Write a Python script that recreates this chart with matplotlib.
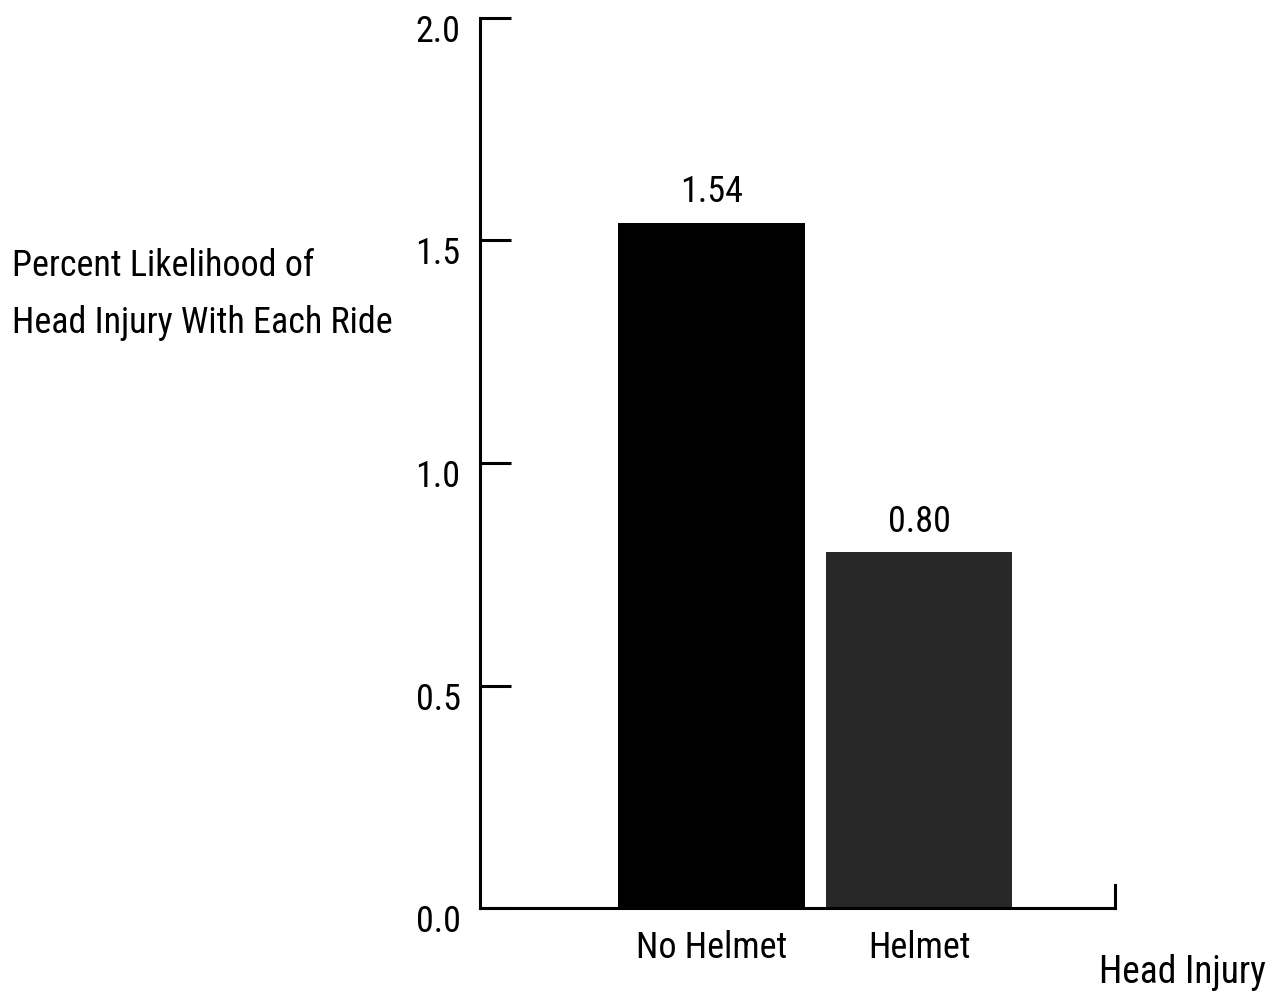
import numpy as np
import matplotlib.pyplot as plt
import matplotlib.transforms as mtransforms
from matplotlib import font_manager as fm

# pick a narrow sans face if one is installed
narrow = None
for name in ['Liberation Sans Narrow', 'Roboto Condensed', 'Open Sans Condensed',
             'DejaVu Sans Condensed', 'Noto Sans Condensed']:
    try:
        fm.findfont(name, fallback_to_default=False)
        narrow = name
        break
    except Exception:
        pass
if narrow is None:
    for f in fm.fontManager.ttflist:
        if 'Narrow' in f.name or 'Condensed' in f.name:
            narrow = f.name
            break
if narrow is None:
    plt.rcParams['font.stretch'] = 'condensed'
    plt.rcParams['font.family'] = ['DejaVu Sans']
else:
    plt.rcParams['font.family'] = [narrow, 'DejaVu Sans']

categories = ['No Helmet', 'Helmet']
values = [1.54, 0.80]
value_labels = ['1.54', '0.80']
bar_colors = ['#000000', '#282828']
yticks = [0.0, 0.5, 1.0, 1.5, 2.0]

fig = plt.figure(figsize=(12.84, 9.94), dpi=100)
ax = fig.add_axes([0.3738, 0.0865, 0.4946, 0.8954])

x = np.arange(len(categories))
ax.bar(x, values, width=0.9, color=bar_colors, zorder=2)

for xi, v, lab in zip(x, values, value_labels):
    ax.annotate(lab, (xi, v), xytext=(0, 9), textcoords='offset points',
                ha='center', va='bottom', fontsize=26)

ax.set_xlim(-1.1157, 1.9446)
ax.set_ylim(0, 2.0)

ax.set_yticks(yticks)
ax.set_yticklabels([f'{t:.1f}' for t in yticks], fontsize=26)
ax.tick_params(axis='y', direction='in', length=22, width=2.2, pad=14)
offset = mtransforms.ScaledTranslation(0, -10 / 100, fig.dpi_scale_trans)
for lbl in ax.get_yticklabels():
    lbl.set_transform(lbl.get_transform() + offset)

ax.set_xticks(x)
ax.set_xticklabels(categories, fontsize=26)
ax.tick_params(axis='x', length=0, pad=16)

ax.spines['top'].set_visible(False)
ax.spines['right'].set_bounds(0, 0.052)
for s in ['left', 'bottom', 'right']:
    ax.spines[s].set_linewidth(2.2)

fig.text(0.0093, 0.7037, 'Percent Likelihood of\nHead Injury With Each Ride',
         ha='left', va='center', fontsize=26, linespacing=1.74)
fig.text(0.9860, 0.022, 'Head Injury', ha='right', va='center', fontsize=27)

fig.savefig('out.png', dpi=100)
